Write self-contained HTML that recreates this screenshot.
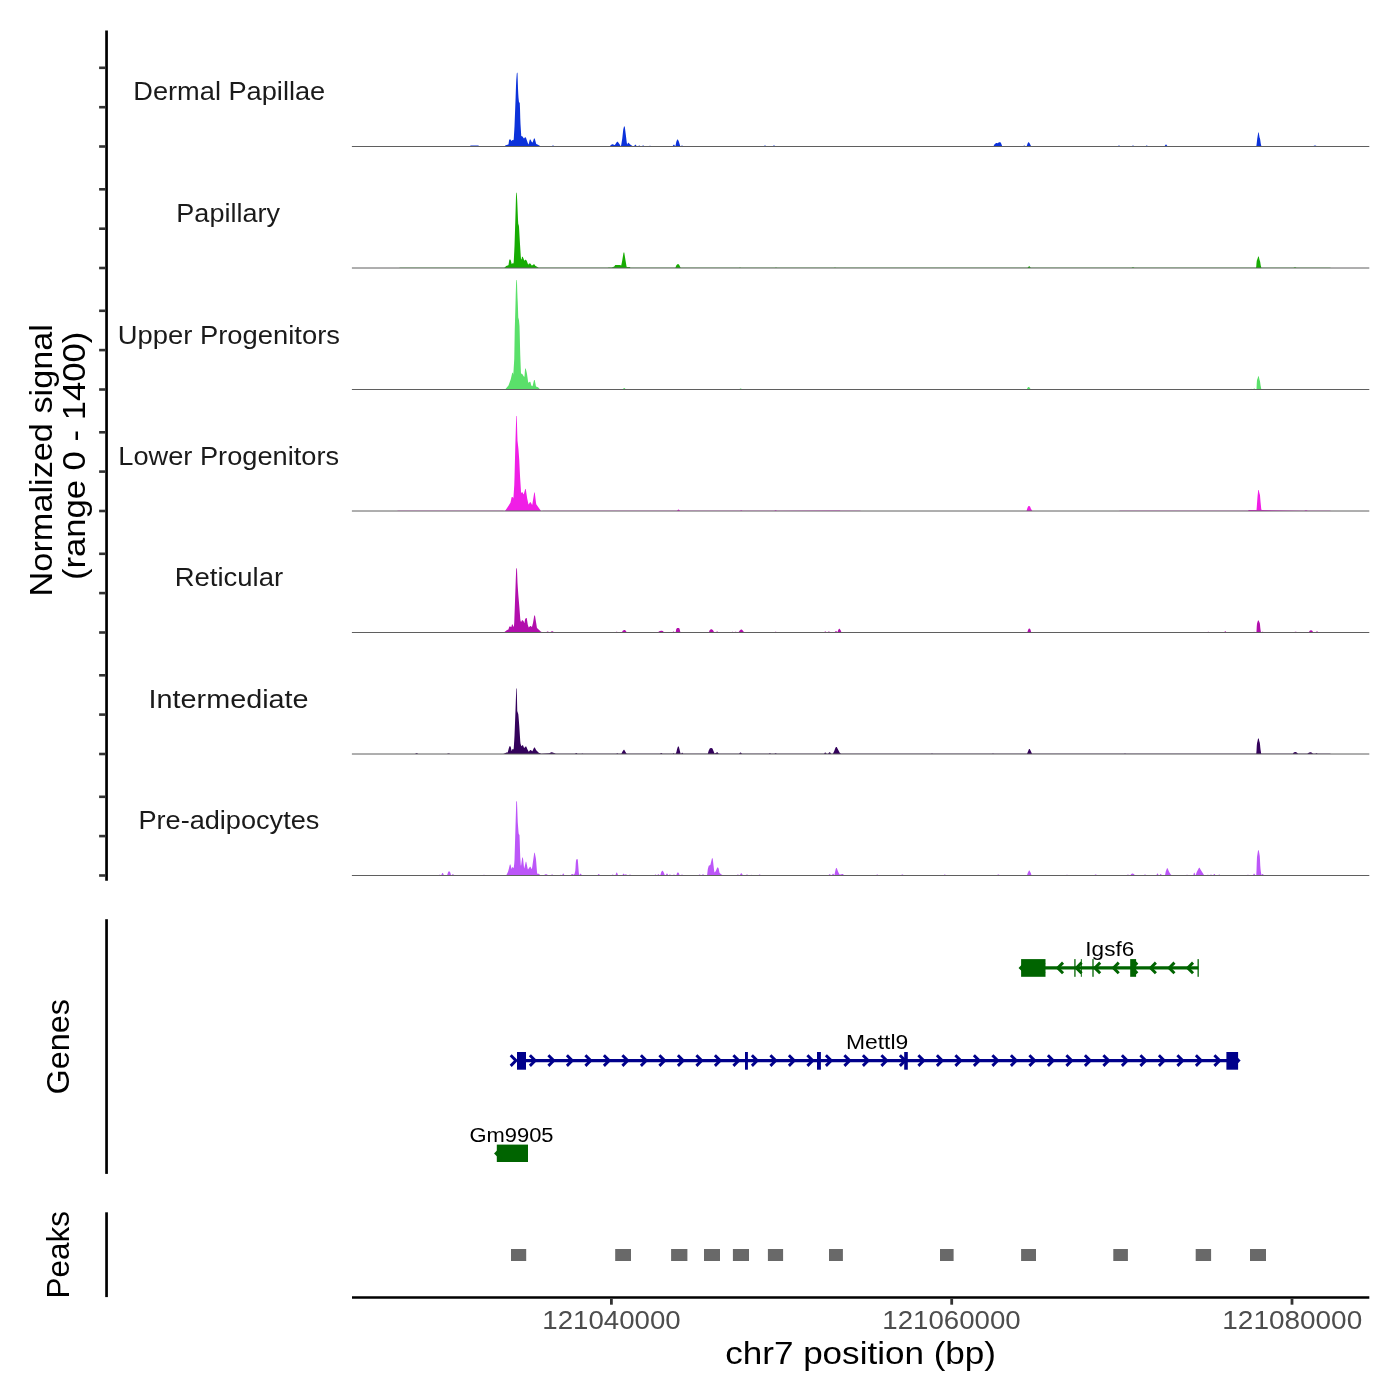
<!DOCTYPE html><html><head><meta charset="utf-8"><style>html,body{margin:0;padding:0;background:#fff;}svg{display:block;will-change:transform;}text{font-family:"Liberation Sans",sans-serif;}</style></head><body>
<svg width="1400" height="1400" viewBox="0 0 1400 1400">
<rect x="0" y="0" width="1400" height="1400" fill="#fff"/>
<text x="133.27" y="100.3" font-size="25" fill="#1a1a1a" textLength="191.99" lengthAdjust="spacingAndGlyphs">Dermal Papillae</text>
<text x="176.37" y="221.7" font-size="25" fill="#1a1a1a" textLength="103.58" lengthAdjust="spacingAndGlyphs">Papillary</text>
<text x="117.86" y="343.5" font-size="25" fill="#1a1a1a" textLength="222.09" lengthAdjust="spacingAndGlyphs">Upper Progenitors</text>
<text x="118.27" y="465.2" font-size="25" fill="#1a1a1a" textLength="220.81" lengthAdjust="spacingAndGlyphs">Lower Progenitors</text>
<text x="174.73" y="585.8" font-size="25" fill="#1a1a1a" textLength="108.42" lengthAdjust="spacingAndGlyphs">Reticular</text>
<text x="148.59" y="708.3" font-size="25" fill="#1a1a1a" textLength="160.04" lengthAdjust="spacingAndGlyphs">Intermediate</text>
<text x="138.45" y="829.2" font-size="25" fill="#1a1a1a" textLength="180.91" lengthAdjust="spacingAndGlyphs">Pre-adipocytes</text>
<text x="542.36" y="1328.7" font-size="25" fill="#4d4d4d" textLength="138.35" lengthAdjust="spacingAndGlyphs">121040000</text>
<text x="882.36" y="1328.7" font-size="25" fill="#4d4d4d" textLength="138.35" lengthAdjust="spacingAndGlyphs">121060000</text>
<text x="1222.31" y="1328.7" font-size="25" fill="#4d4d4d" textLength="139.88" lengthAdjust="spacingAndGlyphs">121080000</text>
<text x="725.23" y="1363.6" font-size="31" fill="#000" textLength="270.77" lengthAdjust="spacingAndGlyphs">chr7 position (bp)</text>
<text transform="translate(52.0,596.38) rotate(-90)" x="0" y="0" font-size="31" fill="#000" textLength="272.38" lengthAdjust="spacingAndGlyphs">Normalized signal</text>
<text transform="translate(84.8,580.05) rotate(-90)" x="0" y="0" font-size="31" fill="#000" textLength="248.22" lengthAdjust="spacingAndGlyphs">(range 0 - 1400)</text>
<text transform="translate(68.5,1094.59) rotate(-90)" x="0" y="0" font-size="31" fill="#000" textLength="95.69" lengthAdjust="spacingAndGlyphs">Genes</text>
<text transform="translate(68.7,1298.52) rotate(-90)" x="0" y="0" font-size="31" fill="#000" textLength="87.60" lengthAdjust="spacingAndGlyphs">Peaks</text>
<text x="1085.38" y="955.8" font-size="20" fill="#000" textLength="48.77" lengthAdjust="spacingAndGlyphs">Igsf6</text>
<text x="845.90" y="1049.0" font-size="20" fill="#000" textLength="62.33" lengthAdjust="spacingAndGlyphs">Mettl9</text>
<text x="469.49" y="1141.9" font-size="20" fill="#000" textLength="84.04" lengthAdjust="spacingAndGlyphs">Gm9905</text>
<g stroke="#000" stroke-width="2.7" stroke-linecap="butt">
<line x1="106.55" y1="30.6" x2="106.55" y2="880.8"/>
<line x1="106.55" y1="919.2" x2="106.55" y2="1173.9"/>
<line x1="106.55" y1="1212.3" x2="106.55" y2="1297.1"/>
<line x1="352" y1="1297.5" x2="1369.3" y2="1297.5"/>
</g>
<g stroke="#333" stroke-width="2.6">
<line x1="99.1" y1="67.8" x2="105.3" y2="67.8"/>
<line x1="99.1" y1="107.2" x2="105.3" y2="107.2"/>
<line x1="99.1" y1="146.5" x2="105.3" y2="146.5"/>
<line x1="99.1" y1="189.3" x2="105.3" y2="189.3"/>
<line x1="99.1" y1="228.7" x2="105.3" y2="228.7"/>
<line x1="99.1" y1="268.0" x2="105.3" y2="268.0"/>
<line x1="99.1" y1="310.8" x2="105.3" y2="310.8"/>
<line x1="99.1" y1="350.1" x2="105.3" y2="350.1"/>
<line x1="99.1" y1="389.5" x2="105.3" y2="389.5"/>
<line x1="99.1" y1="432.3" x2="105.3" y2="432.3"/>
<line x1="99.1" y1="471.6" x2="105.3" y2="471.6"/>
<line x1="99.1" y1="511.0" x2="105.3" y2="511.0"/>
<line x1="99.1" y1="553.8" x2="105.3" y2="553.8"/>
<line x1="99.1" y1="593.1" x2="105.3" y2="593.1"/>
<line x1="99.1" y1="632.5" x2="105.3" y2="632.5"/>
<line x1="99.1" y1="675.3" x2="105.3" y2="675.3"/>
<line x1="99.1" y1="714.6" x2="105.3" y2="714.6"/>
<line x1="99.1" y1="754.0" x2="105.3" y2="754.0"/>
<line x1="99.1" y1="796.8" x2="105.3" y2="796.8"/>
<line x1="99.1" y1="836.1" x2="105.3" y2="836.1"/>
<line x1="99.1" y1="875.5" x2="105.3" y2="875.5"/>
<line x1="611.4" y1="1298.8" x2="611.4" y2="1304.7" stroke-width="2.8"/>
<line x1="951.7" y1="1298.8" x2="951.7" y2="1304.7" stroke-width="2.8"/>
<line x1="1292.0" y1="1298.8" x2="1292.0" y2="1304.7" stroke-width="2.8"/>
</g>
<g fill="#696969">
<rect x="511" y="1249" width="15.2" height="12"/>
<rect x="615.2" y="1249" width="15.8" height="12"/>
<rect x="671.1" y="1249" width="16.3" height="12"/>
<rect x="704" y="1249" width="16.0" height="12"/>
<rect x="732.9" y="1249" width="16.1" height="12"/>
<rect x="767.9" y="1249" width="15.2" height="12"/>
<rect x="829" y="1249" width="13.9" height="12"/>
<rect x="940" y="1249" width="13.6" height="12"/>
<rect x="1021.1" y="1249" width="14.9" height="12"/>
<rect x="1113.3" y="1249" width="14.6" height="12"/>
<rect x="1195.7" y="1249" width="15.4" height="12"/>
<rect x="1250" y="1249" width="16.0" height="12"/>
</g>
<path d="M352.00,146.50 L352.00,146.50 L469.25,146.50 L470.75,145.50 L478.25,145.50 L479.75,146.50 L503.75,146.50 L504.00,146.40 L505.75,145.27 L508.25,144.56 L508.50,144.15 L509.00,140.65 L509.25,139.60 L510.50,139.60 L510.75,139.77 L511.50,141.02 L511.75,140.98 L512.25,140.21 L512.50,139.92 L513.00,139.92 L513.50,140.17 L513.75,138.87 L514.25,130.75 L514.50,126.22 L515.25,107.06 L515.50,100.19 L516.00,85.81 L516.25,80.19 L516.75,73.63 L517.00,72.65 L517.50,72.65 L517.75,80.90 L518.00,88.55 L518.25,93.80 L518.50,97.47 L518.75,100.10 L519.00,102.23 L519.75,102.73 L520.00,108.41 L520.25,117.76 L520.50,123.90 L521.25,135.90 L522.50,136.44 L522.75,136.69 L523.50,138.11 L523.75,138.35 L524.00,138.54 L524.25,138.23 L525.00,137.17 L525.50,137.17 L525.75,137.53 L526.25,138.59 L526.50,139.22 L528.00,143.48 L528.25,144.05 L528.50,144.42 L528.75,143.86 L529.75,139.71 L530.00,139.59 L530.50,139.59 L531.75,142.01 L532.00,142.28 L532.50,142.55 L532.75,141.99 L534.00,138.61 L534.75,138.58 L536.00,143.33 L536.25,143.94 L537.50,144.48 L541.00,146.50 L551.25,146.50 L552.75,145.50 L553.25,145.50 L554.75,146.50 L589.25,146.50 L589.75,146.20 L609.50,146.20 L609.75,146.09 L612.00,144.24 L612.50,144.24 L612.75,144.29 L614.50,145.09 L614.75,145.03 L615.00,144.77 L617.00,141.73 L617.25,141.64 L617.75,141.64 L619.75,144.50 L620.50,146.00 L620.75,146.10 L621.00,146.02 L621.25,144.75 L622.25,138.50 L623.25,129.50 L624.00,126.42 L624.50,126.42 L624.75,126.57 L625.75,134.23 L626.00,136.25 L626.75,142.50 L627.00,143.75 L627.25,144.57 L628.00,142.82 L628.50,142.82 L628.75,142.91 L630.25,144.50 L632.75,146.20 L634.00,146.20 L634.25,146.02 L635.00,144.84 L635.25,144.76 L635.75,144.76 L636.50,145.95 L636.75,146.20 L638.25,146.17 L639.00,145.54 L639.50,145.54 L639.75,145.67 L640.25,146.08 L640.50,146.20 L642.00,146.20 L642.75,145.58 L643.25,145.58 L643.50,145.62 L644.00,146.04 L644.25,146.20 L648.75,146.20 L649.75,145.70 L650.25,145.70 L651.25,146.20 L672.50,146.20 L672.75,146.00 L673.50,144.75 L673.75,144.67 L674.25,144.67 L675.00,145.92 L675.25,146.20 L675.50,145.75 L676.25,142.00 L676.50,141.19 L677.25,139.61 L677.75,139.61 L678.00,139.71 L678.75,141.29 L679.00,142.00 L680.25,146.17 L680.75,146.20 L681.00,146.15 L681.50,145.65 L681.75,145.60 L682.25,145.60 L682.75,146.10 L683.00,146.20 L720.25,146.20 L720.75,146.50 L763.25,146.50 L764.75,145.50 L765.25,145.50 L766.75,146.50 L771.75,146.50 L773.75,145.50 L774.25,145.50 L776.25,146.50 L993.25,146.50 L994.75,144.00 L996.25,143.00 L996.75,143.00 L997.75,143.20 L998.00,143.09 L999.00,142.24 L999.75,142.25 L1000.75,142.50 L1002.25,146.25 L1002.50,146.50 L1023.00,146.50 L1023.25,146.30 L1024.00,145.55 L1024.50,145.55 L1024.75,145.70 L1025.50,146.45 L1025.75,146.50 L1026.50,146.50 L1026.75,145.90 L1027.50,143.65 L1027.75,143.17 L1028.25,142.36 L1028.75,142.36 L1029.00,142.42 L1029.75,143.50 L1031.25,146.50 L1049.25,146.50 L1049.75,146.20 L1117.75,146.17 L1118.75,145.50 L1119.25,145.50 L1120.25,146.17 L1131.75,146.17 L1132.75,145.50 L1133.25,145.50 L1134.25,146.17 L1145.50,146.20 L1146.50,145.53 L1147.00,145.53 L1147.25,145.63 L1148.00,146.13 L1148.25,146.20 L1164.50,146.17 L1165.75,144.50 L1166.25,144.50 L1167.50,146.17 L1256.25,146.20 L1256.50,145.17 L1257.25,138.50 L1258.25,132.40 L1258.75,132.40 L1259.50,137.18 L1259.75,137.90 L1260.00,138.40 L1260.25,139.93 L1260.75,143.50 L1261.25,145.64 L1261.50,146.20 L1313.25,146.20 L1313.50,146.12 L1314.75,145.50 L1315.25,145.50 L1316.50,146.12 L1316.75,146.20 L1320.25,146.20 L1320.75,146.50 L1369.25,146.50 L1369.30,146.50 Z" fill="#0c32da"/>
<path d="M352.00,268.00 L352.00,268.00 L399.25,268.00 L399.75,267.75 L504.00,267.75 L504.25,267.65 L506.00,266.13 L506.25,265.97 L508.25,265.36 L508.50,264.98 L509.25,260.14 L509.50,259.56 L510.00,259.56 L510.50,259.74 L510.75,260.21 L511.50,263.27 L511.75,264.19 L512.25,263.55 L512.50,263.31 L513.00,263.31 L513.50,263.39 L513.75,261.50 L514.25,251.50 L514.50,245.92 L515.25,222.17 L515.50,213.75 L516.00,196.25 L516.25,192.80 L516.75,192.80 L517.25,201.80 L518.00,219.88 L518.25,223.79 L518.75,225.22 L519.00,226.69 L519.75,240.02 L520.00,244.15 L520.75,255.87 L521.00,259.06 L521.25,259.37 L521.50,259.41 L522.00,257.09 L522.25,256.66 L522.75,256.66 L523.75,259.24 L524.00,259.75 L524.50,260.56 L524.75,260.70 L525.25,259.70 L525.75,259.70 L526.00,259.75 L526.75,260.97 L527.00,261.44 L528.00,264.30 L528.25,264.70 L529.00,263.57 L529.25,263.50 L530.25,263.50 L530.50,263.73 L531.75,265.62 L532.50,265.26 L533.75,264.19 L534.25,264.19 L534.50,264.38 L535.25,265.80 L538.75,267.71 L539.00,267.75 L607.50,267.75 L608.75,267.40 L611.75,267.40 L614.25,266.50 L615.25,265.05 L615.50,264.90 L620.25,264.90 L620.50,265.12 L621.00,265.85 L621.25,265.15 L621.75,262.90 L622.00,261.70 L623.50,252.70 L623.75,252.43 L624.25,252.43 L625.50,260.29 L626.50,266.13 L626.75,267.00 L629.75,267.00 L630.50,267.75 L675.25,267.75 L675.50,267.38 L676.25,265.50 L677.25,264.20 L678.75,264.20 L679.00,264.50 L680.50,267.50 L680.75,267.75 L738.75,267.75 L739.00,267.70 L739.75,267.40 L740.25,267.40 L741.00,267.70 L741.25,267.75 L774.75,267.75 L775.00,267.70 L775.75,267.40 L776.25,267.40 L777.00,267.70 L777.25,267.75 L833.75,267.75 L834.00,267.70 L834.75,267.40 L835.25,267.40 L836.00,267.70 L836.25,267.75 L1027.50,267.74 L1028.75,266.41 L1029.00,266.26 L1029.50,266.26 L1030.75,267.66 L1031.00,267.75 L1131.25,267.75 L1131.50,267.70 L1132.75,267.20 L1133.25,267.20 L1134.50,267.70 L1134.75,267.75 L1256.00,267.75 L1256.25,266.60 L1256.50,263.10 L1256.75,260.75 L1257.50,258.85 L1258.25,256.60 L1258.75,256.60 L1259.50,259.79 L1259.75,260.57 L1260.00,261.27 L1260.25,262.36 L1260.50,264.01 L1260.75,265.43 L1261.25,267.57 L1261.50,267.75 L1293.25,267.75 L1293.50,267.70 L1294.75,267.20 L1295.25,267.20 L1296.50,267.70 L1296.75,267.75 L1330.25,267.75 L1330.75,268.00 L1369.25,268.00 L1369.30,268.00 Z" fill="#16ac02"/>
<path d="M352.00,389.50 L352.00,389.50 L504.25,389.50 L505.50,388.94 L508.25,385.83 L508.50,385.46 L510.50,380.01 L510.75,379.17 L512.25,372.73 L512.75,372.73 L513.00,373.18 L513.25,374.65 L513.50,371.27 L514.25,359.00 L514.75,329.50 L515.25,312.83 L515.50,303.50 L515.75,293.50 L516.00,285.90 L516.25,279.90 L516.75,279.90 L517.00,282.60 L517.25,291.10 L517.50,297.50 L517.75,302.50 L518.00,309.37 L518.25,317.50 L518.75,319.29 L519.00,320.54 L519.50,325.96 L519.75,335.03 L520.00,345.70 L520.25,354.79 L520.75,368.22 L521.00,373.62 L522.25,374.00 L523.50,376.02 L524.25,377.02 L524.50,375.96 L525.00,369.84 L525.25,368.43 L525.75,368.43 L526.75,372.74 L527.00,373.96 L528.00,381.19 L528.25,382.69 L529.75,381.76 L530.25,381.76 L530.50,382.35 L531.25,385.60 L532.50,386.19 L534.00,380.20 L534.25,380.12 L534.75,380.12 L535.75,385.35 L536.00,386.42 L538.00,387.24 L538.25,387.40 L539.75,388.90 L540.00,389.01 L543.25,389.20 L544.25,389.50 L622.50,389.50 L622.75,389.30 L624.00,388.05 L624.50,388.05 L624.75,388.20 L626.00,389.45 L626.25,389.50 L676.50,389.50 L676.75,389.46 L678.00,388.96 L678.75,388.94 L680.00,389.44 L680.25,389.50 L738.75,389.50 L739.00,389.38 L740.25,388.38 L741.00,388.42 L742.25,389.42 L742.50,389.50 L1026.50,389.50 L1026.75,389.17 L1027.75,387.50 L1028.25,387.00 L1029.00,387.01 L1029.50,387.39 L1029.75,387.68 L1030.75,389.50 L1249.50,389.50 L1249.75,389.43 L1250.50,388.91 L1251.25,388.87 L1252.00,389.39 L1252.25,389.50 L1253.00,389.50 L1253.25,389.30 L1254.00,388.55 L1254.50,388.55 L1254.75,388.70 L1255.50,389.45 L1255.75,389.50 L1256.50,389.50 L1256.75,383.50 L1257.00,380.07 L1257.50,378.64 L1258.25,376.20 L1258.75,376.20 L1259.25,378.56 L1259.50,379.66 L1259.75,380.46 L1260.00,381.47 L1260.50,385.13 L1260.75,386.50 L1261.25,389.00 L1261.50,389.50 L1369.25,389.50 L1369.30,389.50 Z" fill="#5ae06a"/>
<path d="M352.00,511.00 L352.00,511.00 L397.25,511.00 L397.75,510.70 L503.25,510.70 L503.75,511.00 L504.75,511.00 L505.75,509.90 L510.25,503.09 L510.50,502.55 L511.50,497.64 L511.75,496.95 L512.25,496.95 L512.75,497.20 L513.00,497.50 L513.25,498.50 L513.50,496.66 L514.25,485.14 L514.50,477.71 L515.25,448.23 L515.50,439.58 L516.25,416.00 L516.75,416.00 L517.25,433.43 L517.50,440.83 L518.25,447.28 L518.50,449.69 L519.25,460.00 L520.00,475.70 L521.00,491.44 L521.25,493.11 L522.00,492.26 L522.50,492.26 L522.75,492.66 L523.50,494.37 L523.75,494.35 L525.25,489.10 L525.75,489.10 L527.00,497.37 L527.25,498.64 L528.50,504.50 L528.75,504.24 L530.00,502.24 L530.75,502.21 L532.00,504.84 L532.25,504.78 L534.25,492.60 L534.75,492.60 L536.00,502.78 L536.25,504.15 L540.50,510.34 L541.25,511.00 L542.25,511.00 L542.75,510.65 L677.00,510.65 L678.00,509.65 L678.25,509.60 L678.75,509.60 L679.75,510.60 L680.00,510.65 L740.25,510.65 L741.00,510.32 L741.50,510.32 L741.75,510.39 L742.25,510.63 L774.50,510.65 L774.75,510.58 L775.25,510.35 L776.00,510.37 L776.50,510.60 L776.75,510.65 L839.00,510.62 L839.25,510.53 L840.00,510.55 L840.25,510.63 L860.25,510.65 L860.75,511.00 L1026.50,511.00 L1026.75,510.30 L1027.50,507.67 L1027.75,507.20 L1028.50,506.07 L1029.25,506.10 L1030.00,506.48 L1030.25,507.00 L1031.00,508.88 L1031.25,509.33 L1032.25,511.00 L1119.25,511.00 L1119.75,510.65 L1248.00,510.65 L1248.25,510.50 L1248.75,510.00 L1256.25,510.00 L1256.50,510.36 L1256.75,507.25 L1257.00,503.86 L1257.50,496.71 L1257.75,494.31 L1258.25,490.10 L1258.75,490.10 L1259.25,492.52 L1259.50,493.50 L1259.75,494.33 L1260.00,495.58 L1260.50,501.42 L1260.75,504.00 L1261.25,509.00 L1261.50,509.83 L1261.75,510.00 L1304.50,510.65 L1304.75,510.60 L1305.75,510.20 L1306.25,510.20 L1307.25,510.60 L1307.50,510.65 L1330.25,510.65 L1330.75,511.00 L1369.25,511.00 L1369.30,511.00 Z" fill="#f01ee6"/>
<path d="M352.00,632.50 L352.00,632.50 L503.25,632.50 L504.50,631.96 L506.75,630.30 L508.25,629.51 L508.50,629.23 L509.25,626.64 L509.50,626.39 L510.00,626.39 L510.75,626.83 L511.25,626.95 L511.50,626.52 L512.00,624.58 L512.25,624.44 L512.75,624.44 L513.25,626.67 L513.50,626.81 L514.00,625.50 L514.25,622.31 L515.00,601.39 L515.75,579.96 L516.00,573.77 L516.25,568.22 L516.75,568.22 L517.00,569.86 L517.50,582.71 L517.75,586.85 L518.25,593.97 L518.50,597.12 L519.25,605.70 L520.25,618.70 L520.50,620.47 L521.00,622.02 L521.25,621.80 L522.00,620.30 L522.25,620.14 L522.75,620.14 L523.75,621.56 L524.00,622.24 L524.25,623.15 L524.50,622.58 L525.00,619.69 L525.25,619.09 L526.00,617.93 L526.50,617.93 L526.75,618.32 L527.75,624.48 L528.00,625.50 L528.75,627.47 L529.00,627.35 L530.00,626.18 L530.25,626.08 L530.75,626.08 L531.75,626.91 L532.00,626.83 L533.00,622.99 L533.25,621.57 L534.25,615.42 L534.75,615.42 L535.00,615.72 L536.25,623.45 L536.75,626.70 L537.00,628.05 L541.00,631.72 L543.75,632.50 L544.25,632.50 L544.75,632.20 L546.25,632.20 L547.25,631.47 L548.00,631.51 L548.75,632.06 L549.00,632.20 L550.25,632.20 L551.75,631.17 L552.50,631.20 L553.75,632.08 L554.00,632.20 L575.75,632.20 L576.50,632.02 L577.00,632.02 L577.50,632.18 L615.50,632.20 L616.25,631.81 L616.50,631.73 L617.00,631.73 L617.75,632.13 L618.00,632.20 L621.75,632.20 L622.00,632.12 L623.00,630.58 L623.25,630.40 L624.00,630.02 L624.50,630.02 L624.75,630.10 L625.50,630.48 L625.75,630.81 L626.50,631.96 L626.75,632.20 L658.00,632.20 L659.25,631.30 L661.00,630.66 L661.75,630.64 L662.75,631.00 L663.75,632.07 L664.00,632.20 L672.50,632.20 L672.75,632.00 L673.25,631.50 L673.75,631.50 L674.25,632.00 L674.50,632.20 L675.50,632.20 L675.75,631.92 L676.25,629.00 L677.00,628.16 L677.25,628.10 L679.00,628.10 L679.25,628.33 L679.75,629.50 L680.25,631.64 L680.50,632.20 L708.75,632.20 L709.00,631.88 L709.75,630.00 L711.00,629.20 L711.75,629.18 L712.75,629.92 L713.00,630.27 L714.00,632.05 L714.25,632.20 L716.00,632.20 L716.75,631.58 L717.25,631.58 L717.50,631.62 L718.00,632.04 L718.25,632.20 L731.50,632.20 L732.25,631.70 L732.75,631.70 L733.50,632.20 L734.75,632.17 L735.25,631.83 L735.50,631.73 L736.00,631.73 L736.75,632.20 L738.50,632.17 L739.75,630.50 L741.00,629.61 L741.75,629.58 L742.75,630.42 L743.00,630.71 L744.00,632.14 L744.25,632.20 L774.50,632.20 L775.25,631.85 L776.00,631.87 L776.75,632.20 L824.25,632.20 L824.50,632.04 L825.00,631.62 L825.25,631.58 L825.75,631.58 L826.50,632.20 L827.75,632.20 L828.00,632.04 L828.50,631.62 L828.75,631.58 L829.25,631.58 L830.00,632.20 L834.75,632.20 L835.00,631.94 L835.75,631.00 L836.25,631.00 L837.00,631.94 L837.25,632.20 L837.50,631.88 L838.25,630.00 L839.00,628.87 L839.50,628.87 L839.75,629.07 L840.25,629.73 L840.50,630.11 L841.25,631.82 L841.50,632.20 L1027.25,632.20 L1027.50,631.75 L1028.25,629.50 L1029.00,628.47 L1029.50,628.47 L1029.75,628.64 L1030.25,629.26 L1030.50,629.69 L1031.00,631.56 L1031.25,632.20 L1207.00,632.20 L1207.25,632.13 L1207.75,631.89 L1208.00,631.82 L1208.50,631.82 L1209.25,632.17 L1224.25,632.20 L1224.50,631.96 L1225.00,631.36 L1225.50,631.36 L1225.75,631.54 L1226.25,632.14 L1226.50,632.20 L1253.00,632.20 L1253.25,632.08 L1253.50,631.91 L1254.25,631.87 L1254.75,632.20 L1256.25,632.20 L1256.50,631.50 L1256.75,626.50 L1257.00,623.83 L1257.25,622.70 L1258.00,620.52 L1258.25,620.42 L1258.75,620.42 L1259.25,622.00 L1259.75,623.08 L1260.00,624.86 L1260.25,627.46 L1260.50,629.50 L1260.75,631.17 L1261.00,632.20 L1261.75,632.20 L1262.00,632.06 L1262.25,631.86 L1262.50,631.74 L1263.00,631.74 L1263.50,632.14 L1263.75,632.20 L1293.75,632.20 L1295.25,631.73 L1296.00,631.75 L1297.50,632.20 L1308.75,632.20 L1309.00,632.05 L1309.75,630.70 L1310.75,630.20 L1311.25,630.20 L1312.25,630.70 L1313.00,632.05 L1313.25,632.20 L1316.00,632.20 L1316.75,631.30 L1317.25,631.30 L1318.00,632.20 L1330.25,632.20 L1330.75,632.50 L1369.25,632.50 L1369.30,632.50 Z" fill="#b20eac"/>
<path d="M352.00,754.00 L352.00,754.00 L414.75,754.00 L415.00,753.92 L416.25,753.25 L417.00,753.28 L418.25,753.95 L418.50,754.00 L446.75,754.00 L448.25,753.53 L449.00,753.55 L450.25,753.97 L503.25,754.00 L506.00,752.67 L506.25,752.60 L507.50,752.60 L507.75,752.24 L508.75,748.60 L509.25,746.96 L509.50,746.32 L510.00,746.32 L510.50,746.54 L510.75,747.05 L511.50,750.42 L511.75,750.95 L512.25,749.63 L512.50,749.12 L513.00,749.12 L513.50,749.38 L513.75,748.12 L514.25,740.25 L514.50,735.83 L515.25,716.83 L515.50,710.02 L516.25,688.60 L516.75,688.60 L517.25,710.90 L518.25,713.99 L518.50,716.20 L519.25,725.70 L520.25,741.34 L520.50,743.40 L521.25,745.90 L521.50,746.32 L522.25,745.36 L522.50,745.22 L523.00,745.22 L524.00,747.72 L524.25,748.09 L525.50,746.49 L526.00,746.49 L526.25,746.55 L527.25,749.10 L528.75,751.65 L530.00,750.18 L530.25,750.09 L530.75,750.09 L532.25,751.36 L532.50,750.95 L534.00,747.72 L534.25,747.57 L534.75,747.57 L536.25,750.13 L536.50,750.45 L538.50,752.45 L538.75,752.65 L540.75,753.60 L541.00,753.67 L549.25,753.20 L551.25,752.34 L552.00,752.35 L554.75,753.16 L555.75,753.70 L575.00,753.70 L576.00,753.03 L576.50,753.03 L576.75,753.13 L577.50,753.63 L577.75,753.70 L581.50,753.70 L582.00,753.55 L582.75,753.53 L583.25,753.70 L616.00,753.70 L616.25,753.63 L616.75,753.39 L617.00,753.32 L617.50,753.32 L618.25,753.67 L621.25,753.70 L621.50,753.52 L622.50,751.60 L623.75,749.70 L624.25,749.70 L625.50,752.08 L626.50,753.62 L626.75,753.70 L660.00,753.70 L661.00,753.03 L661.50,753.03 L661.75,753.13 L662.50,753.63 L662.75,753.70 L672.50,753.70 L672.75,753.65 L673.25,753.30 L673.75,753.30 L674.25,753.65 L674.50,753.70 L675.75,753.70 L676.50,751.64 L676.75,750.62 L677.25,748.44 L677.50,747.64 L678.00,746.46 L678.75,746.46 L679.25,748.27 L679.50,749.22 L680.25,752.60 L680.50,753.53 L680.75,753.69 L681.00,753.70 L681.25,753.64 L681.75,753.04 L682.00,752.86 L682.50,752.86 L683.00,753.46 L683.25,753.70 L707.75,753.68 L708.75,750.50 L709.75,748.50 L710.75,747.95 L711.50,747.98 L712.25,748.39 L712.50,748.61 L713.50,750.89 L714.50,753.38 L715.25,753.20 L717.00,752.32 L717.50,752.32 L717.75,752.53 L718.75,753.66 L739.00,753.70 L739.25,753.60 L740.25,752.60 L740.75,752.60 L741.00,752.65 L742.00,753.65 L742.25,753.70 L768.75,753.70 L769.50,753.37 L770.25,753.35 L771.00,753.70 L774.50,753.70 L775.25,753.35 L776.00,753.37 L776.75,753.70 L824.00,753.69 L825.00,752.46 L825.50,752.46 L825.75,752.65 L826.50,753.57 L826.75,753.70 L828.00,753.70 L828.25,753.49 L829.25,752.23 L829.75,752.23 L830.00,752.29 L831.00,753.56 L831.25,753.70 L832.75,753.70 L833.00,753.40 L834.25,751.00 L835.25,748.27 L835.50,747.76 L836.00,746.94 L836.75,746.93 L837.50,748.60 L839.75,752.80 L841.00,753.70 L931.00,753.69 L931.75,753.50 L932.25,753.50 L933.00,753.69 L992.00,753.69 L992.75,753.50 L993.25,753.50 L994.00,753.69 L1027.00,753.70 L1027.25,753.25 L1029.00,749.05 L1029.25,748.90 L1029.75,748.90 L1030.50,750.40 L1032.00,753.68 L1124.00,753.69 L1124.75,753.50 L1125.25,753.50 L1126.00,753.69 L1256.25,753.70 L1256.50,751.00 L1256.75,746.00 L1257.00,743.36 L1257.50,741.21 L1257.75,739.97 L1258.00,738.68 L1258.25,738.42 L1258.75,738.42 L1259.25,741.00 L1259.75,742.42 L1260.00,744.28 L1260.25,746.90 L1260.50,749.31 L1261.00,752.44 L1261.25,753.70 L1292.75,753.70 L1293.75,752.40 L1295.00,752.02 L1295.50,752.02 L1296.75,752.46 L1297.00,752.66 L1298.00,753.70 L1307.25,753.70 L1308.75,752.80 L1310.00,752.35 L1310.75,752.34 L1312.00,752.78 L1312.75,753.50 L1313.00,753.70 L1315.25,753.70 L1315.50,753.63 L1316.00,753.30 L1316.75,753.27 L1317.25,753.60 L1317.50,753.70 L1330.25,753.70 L1330.75,754.00 L1369.25,754.00 L1369.30,754.00 Z" fill="#34025c"/>
<path d="M352.00,875.50 L352.00,875.50 L438.25,875.50 L439.25,874.83 L439.50,874.73 L440.00,874.73 L441.00,875.40 L441.25,875.28 L442.25,873.12 L442.75,873.12 L443.00,873.22 L444.00,875.39 L444.25,875.50 L447.00,875.50 L447.25,874.83 L447.75,873.17 L448.00,872.43 L448.75,871.34 L449.25,871.34 L449.50,871.42 L450.25,872.50 L451.00,875.31 L451.25,875.50 L451.50,875.44 L452.50,874.27 L452.75,874.22 L453.25,874.22 L454.25,875.38 L454.50,875.50 L482.25,875.50 L483.75,874.70 L484.25,874.70 L485.75,875.50 L505.50,875.50 L506.50,874.84 L506.75,874.39 L508.00,871.81 L508.25,871.09 L509.75,865.01 L510.00,864.43 L510.50,864.43 L511.25,867.87 L511.50,868.88 L512.25,867.13 L512.75,867.13 L513.00,867.21 L513.50,868.25 L513.75,867.71 L514.25,863.49 L514.50,860.11 L515.25,834.78 L516.25,801.34 L516.75,801.34 L517.00,802.05 L517.75,822.30 L518.50,831.88 L518.75,833.94 L519.50,835.03 L519.75,841.97 L520.00,850.55 L520.25,857.19 L520.75,864.63 L521.00,866.05 L522.25,857.58 L522.75,857.58 L523.00,858.24 L524.00,867.17 L524.25,868.51 L525.75,861.80 L526.25,861.80 L527.75,868.88 L528.00,869.61 L529.75,866.91 L530.00,866.70 L530.50,866.70 L531.75,869.27 L532.00,868.54 L534.25,852.70 L534.75,852.70 L535.75,857.70 L536.00,859.33 L537.00,872.00 L537.25,873.80 L538.25,873.63 L539.00,873.66 L540.00,874.91 L540.25,875.14 L541.25,875.50 L543.75,875.50 L544.00,875.45 L545.00,874.36 L545.25,874.31 L545.75,874.31 L546.00,874.58 L546.25,874.31 L546.75,874.31 L547.00,874.36 L547.75,875.17 L550.75,875.20 L551.75,874.57 L552.50,874.60 L553.25,875.10 L553.50,875.20 L559.75,875.20 L560.00,875.12 L560.25,874.94 L560.50,874.83 L561.00,874.83 L561.50,875.18 L562.00,875.20 L562.25,874.90 L562.75,873.90 L563.00,873.60 L563.50,873.60 L564.25,875.10 L564.50,875.20 L570.75,875.20 L571.00,874.98 L571.75,874.12 L572.50,874.11 L573.50,874.81 L574.50,874.04 L574.75,873.12 L575.25,870.94 L575.50,867.80 L575.75,863.30 L576.00,860.81 L576.25,859.66 L576.50,859.20 L577.75,859.20 L578.25,865.50 L578.75,872.17 L579.00,874.00 L579.25,874.83 L579.50,875.20 L580.25,873.70 L580.75,873.70 L581.00,873.80 L581.50,874.80 L581.75,875.20 L597.50,875.19 L598.25,874.25 L598.50,874.06 L599.00,874.06 L599.75,875.00 L600.00,875.20 L611.75,875.20 L612.25,874.70 L612.50,874.55 L613.00,874.55 L613.50,875.05 L613.75,875.20 L615.25,875.20 L615.50,874.88 L616.25,873.00 L616.50,872.62 L617.00,872.62 L618.00,875.12 L618.25,875.20 L622.25,875.20 L622.50,874.92 L623.25,873.67 L623.75,873.67 L624.00,873.75 L624.75,875.00 L625.00,874.97 L625.50,874.22 L625.75,874.15 L626.25,874.15 L626.75,874.90 L627.00,875.20 L628.75,875.20 L629.00,875.15 L629.50,874.65 L629.75,874.60 L630.25,874.60 L630.75,875.10 L631.00,875.20 L654.50,875.20 L654.75,875.10 L655.25,874.60 L655.75,874.60 L656.00,874.65 L656.50,875.15 L656.75,875.20 L657.25,875.20 L657.50,874.97 L658.00,874.22 L658.25,874.15 L658.75,874.15 L659.25,874.90 L659.50,875.20 L660.25,875.20 L660.50,874.62 L661.25,872.00 L662.00,870.92 L662.25,870.84 L662.75,870.84 L663.50,871.93 L663.75,872.50 L664.75,875.00 L665.00,875.20 L665.75,875.17 L666.75,873.50 L667.25,873.50 L668.25,875.17 L668.75,875.20 L669.00,875.08 L669.50,874.48 L669.75,874.42 L670.25,874.42 L670.75,875.02 L671.00,875.20 L672.75,875.20 L673.00,875.15 L673.50,874.65 L673.75,874.60 L674.25,874.60 L674.75,875.10 L675.00,875.20 L676.25,875.20 L676.50,874.72 L677.00,873.16 L677.25,872.77 L677.50,872.48 L677.75,872.40 L678.25,872.40 L678.75,872.90 L679.00,873.47 L679.50,875.03 L679.75,875.20 L680.75,875.20 L681.00,875.15 L681.50,874.65 L681.75,874.60 L682.25,874.60 L682.75,875.10 L683.00,875.20 L698.50,875.20 L699.25,874.58 L699.75,874.58 L700.00,874.62 L700.50,875.04 L700.75,875.20 L701.75,875.20 L702.00,875.05 L702.75,874.30 L703.25,874.30 L704.00,875.05 L704.25,875.20 L707.00,875.19 L707.25,874.09 L707.75,869.51 L708.00,868.13 L708.75,865.80 L710.25,864.96 L710.50,864.26 L711.00,862.14 L711.25,861.13 L712.00,858.35 L712.50,858.35 L712.75,858.69 L713.50,865.36 L714.25,871.50 L714.75,872.47 L715.75,871.04 L716.00,870.53 L717.25,867.45 L718.00,867.46 L718.50,868.34 L718.75,869.08 L719.50,872.66 L719.75,873.07 L721.00,874.13 L722.50,875.10 L722.75,875.20 L736.75,875.20 L737.00,875.04 L737.50,874.62 L737.75,874.58 L738.25,874.58 L739.00,875.20 L739.75,875.19 L741.00,873.28 L741.50,873.28 L741.75,873.51 L742.75,875.04 L743.00,875.20 L745.75,875.20 L746.00,875.12 L746.75,874.50 L747.25,874.50 L748.00,875.12 L748.25,875.20 L750.50,875.20 L750.75,875.15 L751.25,874.86 L752.00,874.89 L752.50,875.18 L758.50,875.20 L759.25,874.58 L759.75,874.58 L760.00,874.62 L760.50,875.04 L760.75,875.20 L828.50,875.20 L829.25,874.33 L829.50,874.16 L830.00,874.16 L830.75,875.03 L831.00,875.20 L831.75,875.20 L832.00,874.98 L832.75,873.85 L833.25,873.85 L833.50,873.92 L834.25,875.05 L834.50,875.20 L834.75,873.50 L835.00,872.33 L835.75,869.00 L836.25,868.00 L836.75,868.00 L838.00,871.49 L838.25,872.09 L839.50,874.41 L839.75,874.53 L840.50,874.62 L842.25,874.10 L842.75,874.10 L844.25,875.15 L844.50,875.20 L849.00,875.20 L849.50,875.05 L850.25,875.03 L850.75,875.20 L855.75,875.20 L856.50,875.02 L857.00,875.02 L857.50,875.18 L862.75,875.20 L863.25,875.03 L864.00,875.05 L864.50,875.20 L876.00,875.20 L877.00,874.53 L877.50,874.53 L877.75,874.63 L878.50,875.13 L878.75,875.20 L885.50,875.20 L886.00,875.05 L886.75,875.03 L887.25,875.20 L901.00,875.20 L901.25,875.10 L902.00,874.60 L902.75,874.57 L903.75,875.20 L924.50,875.18 L925.00,875.02 L925.50,875.02 L926.25,875.20 L943.25,875.20 L943.50,875.13 L944.25,874.63 L944.50,874.53 L945.00,874.53 L946.00,875.20 L997.00,875.20 L997.25,875.10 L998.00,874.60 L998.75,874.57 L999.75,875.20 L1027.00,875.20 L1027.25,874.60 L1027.75,873.10 L1028.00,872.41 L1029.00,870.59 L1029.50,870.59 L1029.75,870.90 L1030.50,872.40 L1030.75,873.10 L1031.25,874.60 L1031.50,875.20 L1065.75,875.20 L1066.00,875.15 L1066.75,874.80 L1067.25,874.80 L1068.00,875.15 L1068.25,875.20 L1094.25,875.20 L1095.25,874.57 L1096.00,874.60 L1096.75,875.10 L1097.00,875.20 L1121.00,875.20 L1121.50,875.02 L1122.00,875.02 L1122.25,875.08 L1122.50,875.19 L1126.75,875.20 L1127.00,875.04 L1127.50,874.63 L1127.75,874.58 L1128.25,874.58 L1129.00,875.20 L1130.25,875.20 L1130.50,875.12 L1131.25,874.00 L1132.25,873.60 L1132.75,873.60 L1133.75,874.00 L1134.75,875.00 L1135.00,875.20 L1143.75,875.20 L1144.00,875.12 L1144.75,874.50 L1145.25,874.50 L1146.00,875.12 L1146.25,875.20 L1156.25,875.20 L1156.50,875.00 L1157.25,873.50 L1157.75,873.50 L1158.50,875.00 L1158.75,875.20 L1159.50,875.20 L1159.75,875.05 L1160.25,874.30 L1160.50,874.07 L1161.00,874.07 L1161.75,875.20 L1165.00,875.20 L1165.25,874.00 L1165.75,871.50 L1167.00,868.13 L1167.50,868.13 L1167.75,868.50 L1168.50,870.38 L1169.75,873.00 L1170.75,874.50 L1171.75,875.17 L1186.00,875.20 L1186.25,875.10 L1186.75,874.77 L1187.50,874.80 L1188.00,875.13 L1188.25,875.20 L1193.25,875.20 L1193.50,874.56 L1194.00,872.69 L1194.50,872.69 L1194.75,873.25 L1195.25,875.13 L1195.50,875.20 L1195.75,875.00 L1196.75,872.00 L1199.00,867.69 L1199.50,867.69 L1199.75,867.98 L1200.50,869.41 L1204.00,875.12 L1204.25,875.20 L1207.00,875.20 L1207.50,874.82 L1207.75,874.78 L1208.25,874.78 L1208.75,875.18 L1210.00,875.20 L1210.25,875.00 L1210.75,874.50 L1211.25,874.50 L1211.75,875.00 L1212.00,875.20 L1213.25,875.20 L1214.00,874.07 L1214.50,874.07 L1214.75,874.30 L1215.25,875.05 L1215.50,875.20 L1218.25,875.20 L1218.50,875.05 L1219.00,874.55 L1219.50,874.55 L1219.75,874.70 L1220.25,875.20 L1239.75,875.20 L1240.50,875.02 L1241.00,875.02 L1241.50,875.18 L1246.75,875.20 L1247.00,875.13 L1247.50,874.80 L1248.25,874.77 L1248.75,875.10 L1249.00,875.20 L1253.00,875.20 L1253.75,873.70 L1254.25,873.70 L1254.50,873.80 L1255.00,874.80 L1255.25,875.20 L1256.25,875.20 L1256.50,870.50 L1256.75,862.80 L1257.00,857.11 L1257.50,853.83 L1258.00,850.65 L1258.25,850.24 L1258.75,850.24 L1259.25,852.96 L1259.50,854.40 L1259.75,855.90 L1260.00,859.88 L1260.25,865.50 L1260.50,868.62 L1260.75,871.08 L1261.25,874.00 L1261.50,874.75 L1261.75,875.05 L1262.25,874.30 L1262.50,874.07 L1263.00,874.07 L1263.75,875.20 L1330.25,875.20 L1330.75,875.50 L1369.25,875.50 L1369.30,875.50 Z" fill="#bc56f8"/>
<line x1="351.9" y1="146.50" x2="1369.3" y2="146.50" stroke="#5f5f5f" stroke-width="1"/>
<line x1="351.9" y1="268.00" x2="1369.3" y2="268.00" stroke="#5f5f5f" stroke-width="1"/>
<line x1="351.9" y1="389.50" x2="1369.3" y2="389.50" stroke="#5f5f5f" stroke-width="1"/>
<line x1="351.9" y1="511.00" x2="1369.3" y2="511.00" stroke="#5f5f5f" stroke-width="1"/>
<line x1="351.9" y1="632.50" x2="1369.3" y2="632.50" stroke="#5f5f5f" stroke-width="1"/>
<line x1="351.9" y1="754.00" x2="1369.3" y2="754.00" stroke="#5f5f5f" stroke-width="1"/>
<line x1="351.9" y1="875.50" x2="1369.3" y2="875.50" stroke="#5f5f5f" stroke-width="1"/>
<line x1="517" y1="1060.6" x2="1238" y2="1060.6" stroke="#00008b" stroke-width="3.1"/>
<polyline points="510.70,1055.30 516.00,1060.60 510.70,1065.90" fill="none" stroke="#00008b" stroke-width="2.9" stroke-linejoin="miter" stroke-linecap="butt"/>
<polyline points="529.90,1055.30 535.20,1060.60 529.90,1065.90" fill="none" stroke="#00008b" stroke-width="2.9" stroke-linejoin="miter" stroke-linecap="butt"/>
<polyline points="548.40,1055.30 553.70,1060.60 548.40,1065.90" fill="none" stroke="#00008b" stroke-width="2.9" stroke-linejoin="miter" stroke-linecap="butt"/>
<polyline points="566.90,1055.30 572.20,1060.60 566.90,1065.90" fill="none" stroke="#00008b" stroke-width="2.9" stroke-linejoin="miter" stroke-linecap="butt"/>
<polyline points="585.40,1055.30 590.70,1060.60 585.40,1065.90" fill="none" stroke="#00008b" stroke-width="2.9" stroke-linejoin="miter" stroke-linecap="butt"/>
<polyline points="603.90,1055.30 609.20,1060.60 603.90,1065.90" fill="none" stroke="#00008b" stroke-width="2.9" stroke-linejoin="miter" stroke-linecap="butt"/>
<polyline points="622.40,1055.30 627.70,1060.60 622.40,1065.90" fill="none" stroke="#00008b" stroke-width="2.9" stroke-linejoin="miter" stroke-linecap="butt"/>
<polyline points="640.90,1055.30 646.20,1060.60 640.90,1065.90" fill="none" stroke="#00008b" stroke-width="2.9" stroke-linejoin="miter" stroke-linecap="butt"/>
<polyline points="659.40,1055.30 664.70,1060.60 659.40,1065.90" fill="none" stroke="#00008b" stroke-width="2.9" stroke-linejoin="miter" stroke-linecap="butt"/>
<polyline points="677.90,1055.30 683.20,1060.60 677.90,1065.90" fill="none" stroke="#00008b" stroke-width="2.9" stroke-linejoin="miter" stroke-linecap="butt"/>
<polyline points="696.40,1055.30 701.70,1060.60 696.40,1065.90" fill="none" stroke="#00008b" stroke-width="2.9" stroke-linejoin="miter" stroke-linecap="butt"/>
<polyline points="714.90,1055.30 720.20,1060.60 714.90,1065.90" fill="none" stroke="#00008b" stroke-width="2.9" stroke-linejoin="miter" stroke-linecap="butt"/>
<polyline points="733.40,1055.30 738.70,1060.60 733.40,1065.90" fill="none" stroke="#00008b" stroke-width="2.9" stroke-linejoin="miter" stroke-linecap="butt"/>
<polyline points="751.90,1055.30 757.20,1060.60 751.90,1065.90" fill="none" stroke="#00008b" stroke-width="2.9" stroke-linejoin="miter" stroke-linecap="butt"/>
<polyline points="770.40,1055.30 775.70,1060.60 770.40,1065.90" fill="none" stroke="#00008b" stroke-width="2.9" stroke-linejoin="miter" stroke-linecap="butt"/>
<polyline points="788.90,1055.30 794.20,1060.60 788.90,1065.90" fill="none" stroke="#00008b" stroke-width="2.9" stroke-linejoin="miter" stroke-linecap="butt"/>
<polyline points="807.40,1055.30 812.70,1060.60 807.40,1065.90" fill="none" stroke="#00008b" stroke-width="2.9" stroke-linejoin="miter" stroke-linecap="butt"/>
<polyline points="825.90,1055.30 831.20,1060.60 825.90,1065.90" fill="none" stroke="#00008b" stroke-width="2.9" stroke-linejoin="miter" stroke-linecap="butt"/>
<polyline points="844.40,1055.30 849.70,1060.60 844.40,1065.90" fill="none" stroke="#00008b" stroke-width="2.9" stroke-linejoin="miter" stroke-linecap="butt"/>
<polyline points="862.90,1055.30 868.20,1060.60 862.90,1065.90" fill="none" stroke="#00008b" stroke-width="2.9" stroke-linejoin="miter" stroke-linecap="butt"/>
<polyline points="881.40,1055.30 886.70,1060.60 881.40,1065.90" fill="none" stroke="#00008b" stroke-width="2.9" stroke-linejoin="miter" stroke-linecap="butt"/>
<polyline points="899.90,1055.30 905.20,1060.60 899.90,1065.90" fill="none" stroke="#00008b" stroke-width="2.9" stroke-linejoin="miter" stroke-linecap="butt"/>
<polyline points="918.40,1055.30 923.70,1060.60 918.40,1065.90" fill="none" stroke="#00008b" stroke-width="2.9" stroke-linejoin="miter" stroke-linecap="butt"/>
<polyline points="936.90,1055.30 942.20,1060.60 936.90,1065.90" fill="none" stroke="#00008b" stroke-width="2.9" stroke-linejoin="miter" stroke-linecap="butt"/>
<polyline points="955.40,1055.30 960.70,1060.60 955.40,1065.90" fill="none" stroke="#00008b" stroke-width="2.9" stroke-linejoin="miter" stroke-linecap="butt"/>
<polyline points="973.90,1055.30 979.20,1060.60 973.90,1065.90" fill="none" stroke="#00008b" stroke-width="2.9" stroke-linejoin="miter" stroke-linecap="butt"/>
<polyline points="992.40,1055.30 997.70,1060.60 992.40,1065.90" fill="none" stroke="#00008b" stroke-width="2.9" stroke-linejoin="miter" stroke-linecap="butt"/>
<polyline points="1010.90,1055.30 1016.20,1060.60 1010.90,1065.90" fill="none" stroke="#00008b" stroke-width="2.9" stroke-linejoin="miter" stroke-linecap="butt"/>
<polyline points="1029.40,1055.30 1034.70,1060.60 1029.40,1065.90" fill="none" stroke="#00008b" stroke-width="2.9" stroke-linejoin="miter" stroke-linecap="butt"/>
<polyline points="1047.90,1055.30 1053.20,1060.60 1047.90,1065.90" fill="none" stroke="#00008b" stroke-width="2.9" stroke-linejoin="miter" stroke-linecap="butt"/>
<polyline points="1066.40,1055.30 1071.70,1060.60 1066.40,1065.90" fill="none" stroke="#00008b" stroke-width="2.9" stroke-linejoin="miter" stroke-linecap="butt"/>
<polyline points="1084.90,1055.30 1090.20,1060.60 1084.90,1065.90" fill="none" stroke="#00008b" stroke-width="2.9" stroke-linejoin="miter" stroke-linecap="butt"/>
<polyline points="1103.40,1055.30 1108.70,1060.60 1103.40,1065.90" fill="none" stroke="#00008b" stroke-width="2.9" stroke-linejoin="miter" stroke-linecap="butt"/>
<polyline points="1121.90,1055.30 1127.20,1060.60 1121.90,1065.90" fill="none" stroke="#00008b" stroke-width="2.9" stroke-linejoin="miter" stroke-linecap="butt"/>
<polyline points="1140.40,1055.30 1145.70,1060.60 1140.40,1065.90" fill="none" stroke="#00008b" stroke-width="2.9" stroke-linejoin="miter" stroke-linecap="butt"/>
<polyline points="1158.90,1055.30 1164.20,1060.60 1158.90,1065.90" fill="none" stroke="#00008b" stroke-width="2.9" stroke-linejoin="miter" stroke-linecap="butt"/>
<polyline points="1177.40,1055.30 1182.70,1060.60 1177.40,1065.90" fill="none" stroke="#00008b" stroke-width="2.9" stroke-linejoin="miter" stroke-linecap="butt"/>
<polyline points="1195.90,1055.30 1201.20,1060.60 1195.90,1065.90" fill="none" stroke="#00008b" stroke-width="2.9" stroke-linejoin="miter" stroke-linecap="butt"/>
<polyline points="1214.40,1055.30 1219.70,1060.60 1214.40,1065.90" fill="none" stroke="#00008b" stroke-width="2.9" stroke-linejoin="miter" stroke-linecap="butt"/>
<polyline points="1233.30,1055.30 1238.60,1060.60 1233.30,1065.90" fill="none" stroke="#00008b" stroke-width="2.9" stroke-linejoin="miter" stroke-linecap="butt"/>
<rect x="517.0" y="1052.0" width="9.00" height="17.7" fill="#00008b"/>
<rect x="745.0" y="1052.0" width="2.90" height="17.7" fill="#00008b"/>
<rect x="817.0" y="1052.0" width="3.90" height="17.7" fill="#00008b"/>
<rect x="904.2" y="1052.0" width="3.60" height="17.7" fill="#00008b"/>
<rect x="1226.4" y="1052.0" width="11.70" height="17.7" fill="#00008b"/>
<line x1="1021" y1="967.9" x2="1198.3" y2="967.9" stroke="#006400" stroke-width="3.1"/>
<polyline points="1025.90,962.60 1020.60,967.90 1025.90,973.20" fill="none" stroke="#006400" stroke-width="2.9" stroke-linejoin="miter" stroke-linecap="butt"/>
<polyline points="1044.47,962.60 1039.17,967.90 1044.47,973.20" fill="none" stroke="#006400" stroke-width="2.9" stroke-linejoin="miter" stroke-linecap="butt"/>
<polyline points="1063.04,962.60 1057.74,967.90 1063.04,973.20" fill="none" stroke="#006400" stroke-width="2.9" stroke-linejoin="miter" stroke-linecap="butt"/>
<polyline points="1081.61,962.60 1076.31,967.90 1081.61,973.20" fill="none" stroke="#006400" stroke-width="2.9" stroke-linejoin="miter" stroke-linecap="butt"/>
<polyline points="1100.18,962.60 1094.88,967.90 1100.18,973.20" fill="none" stroke="#006400" stroke-width="2.9" stroke-linejoin="miter" stroke-linecap="butt"/>
<polyline points="1118.75,962.60 1113.45,967.90 1118.75,973.20" fill="none" stroke="#006400" stroke-width="2.9" stroke-linejoin="miter" stroke-linecap="butt"/>
<polyline points="1137.32,962.60 1132.02,967.90 1137.32,973.20" fill="none" stroke="#006400" stroke-width="2.9" stroke-linejoin="miter" stroke-linecap="butt"/>
<polyline points="1155.89,962.60 1150.59,967.90 1155.89,973.20" fill="none" stroke="#006400" stroke-width="2.9" stroke-linejoin="miter" stroke-linecap="butt"/>
<polyline points="1174.46,962.60 1169.16,967.90 1174.46,973.20" fill="none" stroke="#006400" stroke-width="2.9" stroke-linejoin="miter" stroke-linecap="butt"/>
<polyline points="1193.03,962.60 1187.73,967.90 1193.03,973.20" fill="none" stroke="#006400" stroke-width="2.9" stroke-linejoin="miter" stroke-linecap="butt"/>
<rect x="1021.1" y="959.1" width="24.40" height="17.7" fill="#006400"/>
<rect x="1130.2" y="959.1" width="5.90" height="17.7" fill="#006400"/>
<rect x="1074.1" y="959.1" width="1.60" height="17.7" fill="#006400" fill-opacity="0.8"/>
<rect x="1080.8" y="959.1" width="1.20" height="17.7" fill="#006400" fill-opacity="0.8"/>
<rect x="1092.2" y="959.1" width="1.60" height="17.7" fill="#006400" fill-opacity="0.8"/>
<rect x="1197.4" y="959.1" width="1.60" height="17.7" fill="#006400" fill-opacity="0.8"/>
<rect x="496.8" y="1144.6" width="31.20" height="17.4" fill="#006400"/>
<polyline points="501.40,1148.10 496.10,1153.40 501.40,1158.70" fill="none" stroke="#006400" stroke-width="2.9" stroke-linejoin="miter" stroke-linecap="butt"/>
</svg></body></html>
